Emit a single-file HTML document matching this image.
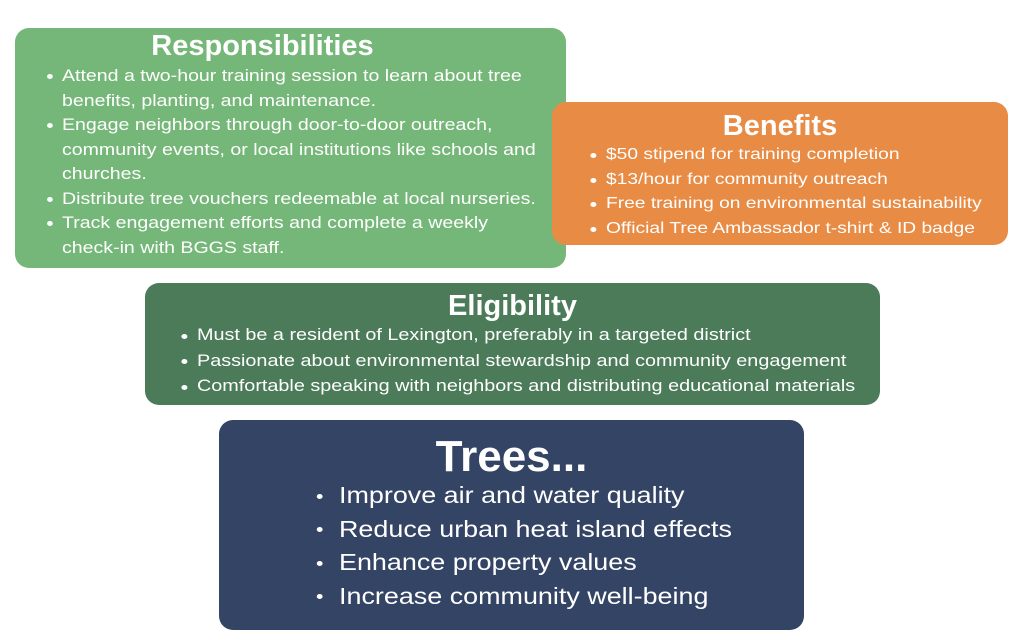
<!DOCTYPE html>
<html><head><meta charset="utf-8"><style>
body{margin:0;width:1024px;height:642px;background:#fff;position:relative;overflow:hidden;font-family:"Liberation Sans",sans-serif;color:#fff}
.b{position:absolute;border-radius:14px}
.t{position:absolute;white-space:nowrap}
.l{position:absolute;white-space:nowrap}
.l:before{content:"";position:absolute;width:5px;height:5px;border-radius:50%;background:#fff;left:-13px;top:50%;margin-top:-2px}
.s{position:absolute;transform-origin:0 0}
.tr .l:before{left:-19px}
</style></head><body>
<div class="b" style="left:15px;top:28px;width:551px;height:240px;background:#75b778"></div>
<div class="b" style="left:552px;top:102px;width:456px;height:143px;background:#e88b45"></div>
<div class="b" style="left:145px;top:283px;width:735px;height:122px;background:#4b7b58"></div>
<div class="b" style="left:219px;top:420px;width:585px;height:210px;background:#344464"></div>

<div class="t" style="left:15px;width:495px;top:30px;font-size:29px;font-weight:bold;text-align:center">Responsibilities</div>
<div class="s" style="left:62px;top:64px;font-size:17px;line-height:24.5px;transform:scaleX(1.15)">
<div class="l" style="top:0">Attend a two-hour training session to learn about tree</div>
<div style="position:absolute;top:24.5px;white-space:nowrap">benefits, planting, and maintenance.</div>
<div class="l" style="top:49px">Engage neighbors through door-to-door outreach,</div>
<div style="position:absolute;top:73.5px;white-space:nowrap">community events, or local institutions like schools and</div>
<div style="position:absolute;top:98px;white-space:nowrap">churches.</div>
<div class="l" style="top:122.5px">Distribute tree vouchers redeemable at local nurseries.</div>
<div class="l" style="top:147px">Track engagement efforts and complete a weekly</div>
<div style="position:absolute;top:171.5px;white-space:nowrap">check-in with BGGS staff.</div>
</div>

<div class="t" style="left:552px;width:456px;top:110px;font-size:29px;font-weight:bold;text-align:center">Benefits</div>
<div class="s" style="left:606px;top:143px;font-size:16px;line-height:24.5px;transform:scaleX(1.2)">
<div class="l" style="top:0">$50 stipend for training completion</div>
<div class="l" style="top:24.5px">$13/hour for community outreach</div>
<div class="l" style="top:49px">Free training on environmental sustainability</div>
<div class="l" style="top:73.5px">Official Tree Ambassador t-shirt &amp; ID badge</div>
</div>

<div class="t" style="left:145px;width:735px;top:290px;font-size:29px;font-weight:bold;text-align:center">Eligibility</div>
<div class="s" style="left:197px;top:323px;font-size:16.5px;line-height:25.5px;transform:scaleX(1.2)">
<div class="l" style="top:0">Must be a resident of Lexington, preferably in a targeted district</div>
<div class="l" style="top:25.5px">Passionate about environmental stewardship and community engagement</div>
<div class="l" style="top:51px">Comfortable speaking with neighbors and distributing educational materials</div>
</div>

<div class="t" style="left:219px;width:585px;top:432px;font-size:44px;font-weight:bold;text-align:center">Trees...</div>
<div class="s tr" style="left:339px;top:479px;font-size:23px;line-height:33.5px;transform:scaleX(1.17)">
<div class="l" style="top:0">Improve air and water quality</div>
<div class="l" style="top:33.5px">Reduce urban heat island effects</div>
<div class="l" style="top:67px">Enhance property values</div>
<div class="l" style="top:100.5px">Increase community well-being</div>
</div>
</body></html>
